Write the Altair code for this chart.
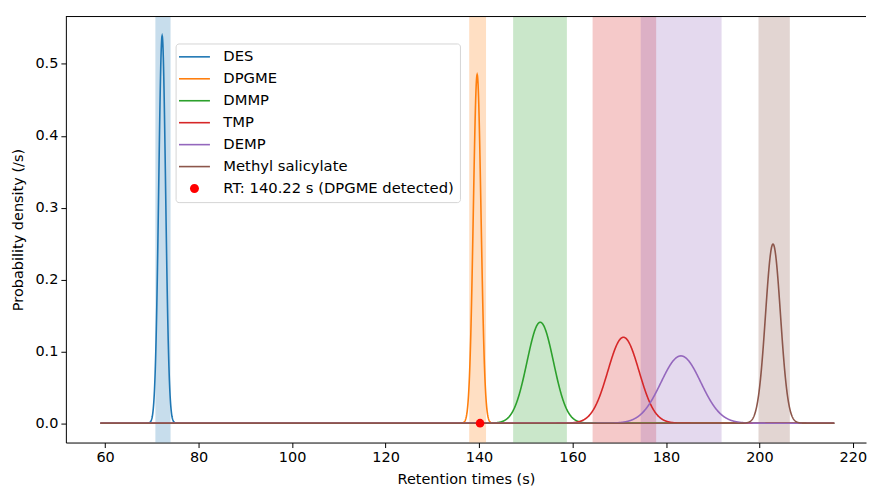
import numpy as np
import pandas as pd
import altair as alt

# ---- values ----
compounds = ["DES", "DPGME", "DMMP", "TMP", "DEMP", "Methyl salicylate"]
colors = ["#1f77b4", "#ff7f0e", "#2ca02c", "#d62728", "#9467bd", "#8c564b"]
peak_rt = [72.2, 139.6, 153.1, 170.9, 183.2, 202.9]      # s
peak_sd = [0.74, 0.822, 2.84, 3.336, 4.26, 1.60]         # s
band_lo = [70.75, 137.9, 147.3, 164.3, 174.6, 199.8]
band_hi = [74.0, 141.5, 158.8, 177.9, 191.9, 206.5]
rt_start, rt_end = 59.0, 216.0
detected_rt = 140.22
detected_label = "RT: 140.22 s (DPGME detected)"
point_color = "#ff0000"

x_ticks = [60, 80, 100, 120, 140, 160, 180, 200, 220]
y_ticks = [0.0, 0.1, 0.2, 0.3, 0.4, 0.5]
x_domain = [51.6, 222.8]
y_domain = [-0.02695, 0.56595]

FONT = "DejaVu Sans"
FS = 14.5
W, H = 802, 427

# ---- tables ----
grid = np.linspace(rt_start, rt_end, 3141)
curves = []
for name, col, mu, sd in zip(compounds, colors, peak_rt, peak_sd):
    dens = np.exp(-0.5 * ((grid - mu) / sd) ** 2) / (sd * np.sqrt(2 * np.pi))
    curves.append(pd.DataFrame({"rt": grid, "density": dens, "compound": name}))

point_df = pd.DataFrame({"rt": [detected_rt], "density": [0.0]})

legend_labels = compounds + [detected_label]
legend_colors = colors + [point_color]
# legend glyphs: a thin bar for the lines, a dot for the detected RT
line_path = "M-2,-0.16L4.2,-0.16L4.2,0.16L-2,0.16Z"
circ_path = "M0.2,0A0.9,0.9 0 1,0 2,0A0.9,0.9 0 1,0 0.2,0Z"
legend_shapes = [line_path] * 6 + [circ_path]
legend_df = pd.DataFrame({"label": legend_labels, "rt": [detected_rt] * 7, "density": [0.0] * 7})

xs = alt.Scale(domain=x_domain, nice=False, zero=False)
ys = alt.Scale(domain=y_domain, nice=False, zero=False)

x_axis = alt.Axis(values=x_ticks, format="d", title="Retention times (s)", grid=False)
y_axis = alt.Axis(values=y_ticks, format=".1f", title="Probability density (/s)", grid=False)

band_layers = []
for name, col, lo, hi in zip(compounds, colors, band_lo, band_hi):
    bdf = pd.DataFrame({"lo": [lo], "hi": [hi], "compound": [name]})
    band_layers.append(
        alt.Chart(bdf).mark_rect(color=col, opacity=0.25).encode(
            x=alt.X("lo:Q", scale=xs, axis=x_axis),
            x2="hi:Q",
            y=alt.value(0),
            y2=alt.value(H),
        )
    )

line_layers = []
for df, col in zip(curves, colors):
    line_layers.append(
        alt.Chart(df).mark_line(color=col, strokeWidth=1.6).encode(
            x=alt.X("rt:Q", scale=xs, axis=x_axis),
            y=alt.Y("density:Q", scale=ys, axis=y_axis),
        )
    )

point_layer = alt.Chart(point_df).mark_circle(color=point_color, size=75, opacity=1).encode(
    x=alt.X("rt:Q", scale=xs),
    y=alt.Y("density:Q", scale=ys),
)

# top spine (the right one lies beyond the visible page in the reference)
top_spine = alt.Chart(point_df).mark_rule(color="#000000", strokeWidth=1).encode(
    x=alt.value(0), x2=alt.value(W), y=alt.value(0)
)

leg = alt.Legend(
    title=None, orient="none", legendX=110, legendY=27,
    labelFont=FONT, labelFontSize=14.8, labelColor="#000000", labelLimit=0,
    symbolSize=100, symbolStrokeWidth=0, symbolOpacity=1,
    labelOffset=27, rowPadding=6, padding=6,
    strokeColor="#d5d5d5", fillColor="#ffffff", cornerRadius=3,
)
legend_layer = alt.Chart(legend_df).mark_point(filled=True, size=0, opacity=1).encode(
    x=alt.X("rt:Q", scale=xs),
    y=alt.Y("density:Q", scale=ys),
    fill=alt.Fill("label:N", scale=alt.Scale(domain=legend_labels, range=legend_colors), legend=leg, sort=legend_labels),
    shape=alt.Shape("label:N", scale=alt.Scale(domain=legend_labels, range=legend_shapes), legend=leg, sort=legend_labels),
)

chart = alt.layer(*band_layers, *line_layers, top_spine, legend_layer, point_layer).properties(
    width=W, height=H,
    padding={"left": 2, "top": 7, "right": 0, "bottom": 0},
).configure_view(
    stroke=None
).configure_axis(
    labelFont=FONT, labelFontSize=FS, labelColor="#000000",
    titleFont=FONT, titleFontSize=FS, titleFontWeight="normal", titleColor="#000000",
    domainColor="#000000", tickColor="#000000", tickSize=5, labelPadding=3, titlePadding=9,
)

chart.save("out.html", embed_options={"renderer": "svg", "actions": False})
